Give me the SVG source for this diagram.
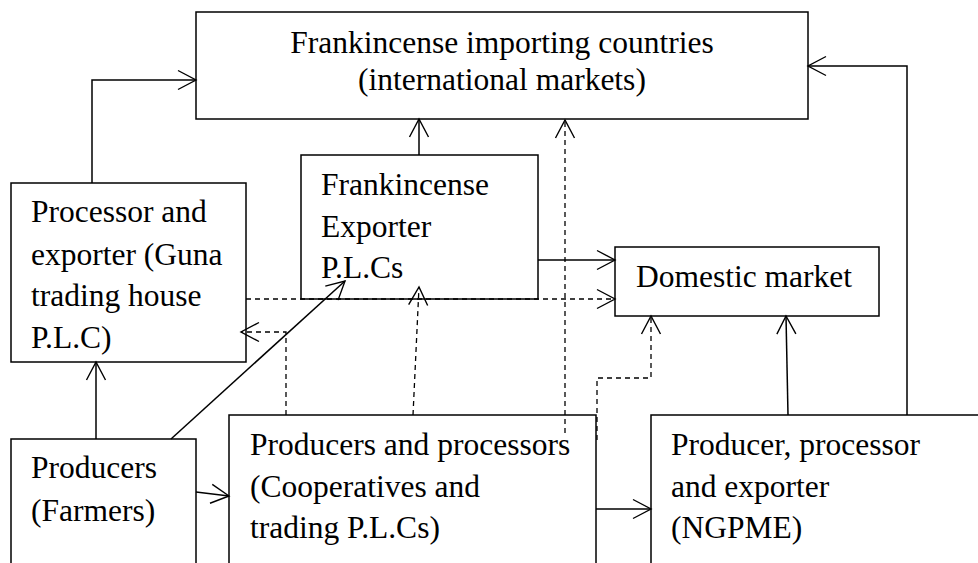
<svg xmlns="http://www.w3.org/2000/svg" width="978" height="563" viewBox="0 0 978 563">
<defs>
<marker id="arr" markerUnits="userSpaceOnUse" markerWidth="24" markerHeight="24" viewBox="-20 -12 24 24" refX="0" refY="0" orient="auto" overflow="visible">
<path d="M-18,-9.5 L0,0 L-18,9.5" fill="none" stroke="#000" stroke-width="1.4"/>
</marker>
</defs>
<style>
.box{fill:#fff;stroke:#000;stroke-width:1.5}
.t{font-family:"Liberation Serif","Times New Roman",serif;font-size:31.5px;fill:#000}
.c{fill:none;stroke:#000;stroke-width:1.5;marker-end:url(#arr)}
.d{fill:none;stroke:#000;stroke-width:1.3;stroke-dasharray:5,4;marker-end:url(#arr)}
</style>
<rect width="978" height="563" fill="#fff"/>
<g id="importing">
<rect class="box" x="196" y="12" width="612" height="107"/>
<text class="t" x="502" y="53" text-anchor="middle">Frankincense importing countries</text>
<text class="t" x="502" y="90" text-anchor="middle">(international markets)</text>
</g>
<g id="guna">
<rect class="box" x="11" y="183" width="235" height="179"/>
<text class="t" x="31" y="222">Processor and</text>
<text class="t" x="31" y="265">exporter (Guna</text>
<text class="t" x="31" y="306">trading house</text>
<text class="t" x="31" y="348">P.L.C)</text>
</g>
<g id="exporter">
<rect class="box" x="301" y="155" width="237" height="144"/>
<text class="t" x="321" y="195">Frankincense</text>
<text class="t" x="321" y="237">Exporter</text>
<text class="t" x="321" y="278">P.L.Cs</text>
</g>
<g id="domestic">
<rect class="box" x="615" y="247" width="264" height="69"/>
<text class="t" x="636" y="287">Domestic market</text>
</g>
<g id="farmers">
<rect class="box" x="11" y="439" width="185" height="140"/>
<text class="t" x="31" y="478">Producers</text>
<text class="t" x="31" y="521">(Farmers)</text>
</g>
<g id="cooperatives">
<rect class="box" x="229" y="415" width="367" height="160"/>
<text class="t" x="250" y="455">Producers and processors</text>
<text class="t" x="250" y="497">(Cooperatives and</text>
<text class="t" x="250" y="538">trading P.L.Cs)</text>
</g>
<g id="ngpme">
<rect class="box" x="651" y="415" width="340" height="160"/>
<text class="t" x="671" y="455">Producer, processor</text>
<text class="t" x="671" y="497">and exporter</text>
<text class="t" x="671" y="538">(NGPME)</text>
</g>
<g id="connectors">
<path class="c" d="M92,183 V80 H196"/>
<path class="c" d="M419,155 V119"/>
<path class="c" d="M538,260 H615"/>
<path class="c" d="M907,415 V66 H808"/>
<path class="c" d="M788,415 L786,316"/>
<path class="c" d="M96,439 V362"/>
<path class="c" d="M171,439 L345,281"/>
<path class="c" d="M196,492 L229,496"/>
<path class="c" d="M596,509 H651"/>
<path class="d" d="M246,299 H615"/>
<path class="d" d="M565,433 V120"/>
<path class="d" d="M286,415 V332 H241"/>
<path class="d" d="M413,415 L419,287"/>
<path class="d" d="M597,440 V378 H651 V316"/>
</g>
</svg>
